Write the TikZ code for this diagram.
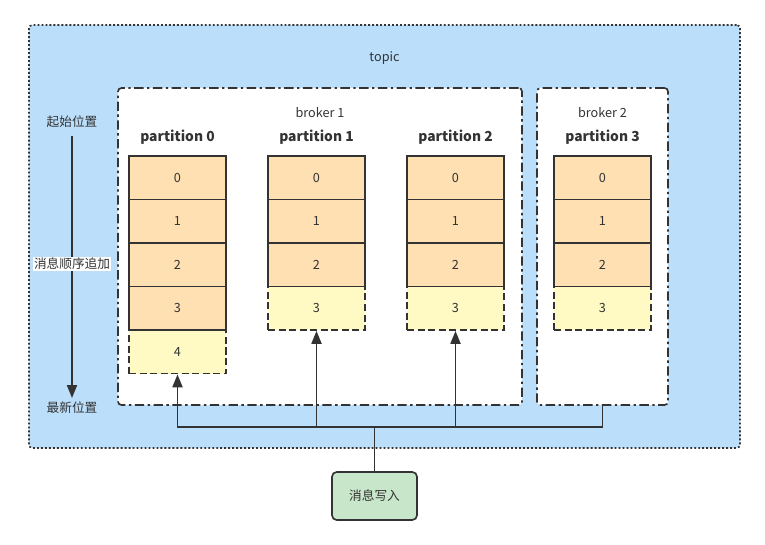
\documentclass[tikz,border=0pt]{standalone}
\usepackage{fontspec}
\setmainfont{Noto Sans CJK SC}
\usetikzlibrary{arrows.meta}
\definecolor{linegray}{HTML}{333333}
\definecolor{topicblue}{HTML}{BBDEFB}
\definecolor{cellorange}{HTML}{FFE0B2}
\definecolor{cellyellow}{HTML}{FFF9C4}
\definecolor{writegreen}{HTML}{C8E6C9}

\begin{document}
\begin{tikzpicture}[x=0.03cm,y=-0.03cm,
  every node/.style={text=linegray,font=\fontsize{10.8}{13}\selectfont},
  topicbox/.style={draw=linegray,fill=topicblue,line width=1.4pt,rounded corners=3pt,
    dash pattern=on 1.6pt off 1.8pt,minimum width=21.33cm,minimum height=12.69cm},
  brokerbox/.style={draw=linegray,fill=white,line width=1.4pt,rounded corners=3pt,
    dash pattern=on 8pt off 3pt on 2pt off 3pt,minimum height=9.51cm},
  oldcell/.style={draw=linegray,fill=cellorange,line width=1.5pt,inner sep=0pt,
    minimum width=2.91cm,minimum height=1.305cm},
  newcell/.style={oldcell,fill=cellyellow,dash pattern=on 6pt off 3pt},
  ptitle/.style={font=\bfseries\fontsize{11.8}{14}\selectfont},
  writebox/.style={draw=linegray,fill=writegreen,line width=1.4pt,rounded corners=4pt,
    minimum width=2.55cm,minimum height=1.44cm},
  line/.style={draw=linegray,line width=1.6pt},
  arr/.style={line,-{Triangle[length=11pt,width=8.5pt]}}
]
  \useasboundingbox (0,0) rectangle (765,545);

  % containers
  \node[topicbox] (topic) at (384.5,236.5) {};
  \node (topictxt) at (384.5,58) {topic};
  \node[brokerbox,minimum width=12.12cm] (broker1) at (320,246.5) {};
  \node[brokerbox,minimum width=3.93cm] (broker2) at (602.5,246.5) {};
  \node (b1txt) at (320,113) {broker 1};
  \node (b2txt) at (602.5,113) {broker 2};

  \node[ptitle] (pt0) at (177.5,137) {partition 0};
  \node[ptitle] (pt1) at (316.5,137) {partition 1};
  \node[ptitle] (pt2) at (455.5,137) {partition 2};
  \node[ptitle] (pt3) at (602.5,137) {partition 3};

  % partition 0
  \node[newcell] (p04) at (177.5,351.75) {4};
  \node[oldcell] (p00) at (177.5,177.75) {0};
  \node[oldcell] (p01) at (177.5,221.25) {1};
  \node[oldcell] (p02) at (177.5,264.75) {2};
  \node[oldcell] (p03) at (177.5,308.25) {3};

  % partition 1
  \node[newcell] (p13) at (316.5,308.25) {3};
  \node[oldcell] (p10) at (316.5,177.75) {0};
  \node[oldcell] (p11) at (316.5,221.25) {1};
  \node[oldcell] (p12) at (316.5,264.75) {2};

  % partition 2
  \node[newcell] (p23) at (455.5,308.25) {3};
  \node[oldcell] (p20) at (455.5,177.75) {0};
  \node[oldcell] (p21) at (455.5,221.25) {1};
  \node[oldcell] (p22) at (455.5,264.75) {2};

  % partition 3
  \node[newcell] (p33) at (602.5,308.25) {3};
  \node[oldcell] (p30) at (602.5,177.75) {0};
  \node[oldcell] (p31) at (602.5,221.25) {1};
  \node[oldcell] (p32) at (602.5,264.75) {2};

  % order of messages
  \node (first) at (72,122) {起始位置};
  \node (last) at (72,408) {最新位置};
  \draw[arr,shorten <=3pt] (first) -- (last);
  \node[fill=white,inner sep=1pt] (order) at (72,264) {消息顺序追加};

  % writing
  \node[writebox] (write) at (374.5,496) {消息写入};
  \coordinate (hub) at (374.5,427);
  \draw[line] (write) -- (hub);
  \draw[arr] (hub) -| (p04);
  \draw[arr] (hub) -| (p13);
  \draw[arr] (hub) -| (p23);
  \draw[line] (hub) -| (broker2);

\end{tikzpicture}
\end{document}
